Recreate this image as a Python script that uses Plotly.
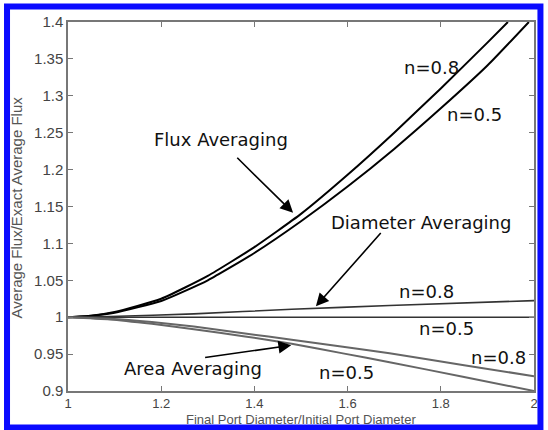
import plotly.graph_objects as go

# ---- data ----
flux08_x = [1.0, 1.05, 1.1, 1.2, 1.3, 1.4, 1.5, 1.6, 1.7, 1.8, 1.9, 1.944]
flux08_y = [1.0, 1.002, 1.007, 1.025, 1.056, 1.095, 1.140, 1.193, 1.250, 1.310, 1.372, 1.40]
flux05_x = [1.0, 1.05, 1.1, 1.2, 1.3, 1.4, 1.5, 1.6, 1.7, 1.8, 1.9, 1.989]
flux05_y = [1.0, 1.002, 1.006, 1.022, 1.050, 1.087, 1.130, 1.177, 1.228, 1.283, 1.341, 1.40]
diam08_x = [1.0, 1.09, 1.27, 1.48, 1.69, 2.0]
diam08_y = [1.0, 1.001, 1.0045, 1.0108, 1.0158, 1.0225]
diam05_x = [1.0, 2.0]
diam05_y = [1.0, 1.0]
area08_x = [1.0, 1.09, 1.18, 1.27, 1.38, 1.48, 1.59, 1.69, 1.85, 2.0]
area08_y = [1.0, 0.998, 0.9935, 0.9874, 0.978, 0.9694, 0.960, 0.951, 0.935, 0.920]
area05_x = [1.0, 1.09, 1.18, 1.27, 1.38, 1.48, 1.59, 1.69, 1.85, 2.0]
area05_y = [1.0, 0.997, 0.991, 0.9838, 0.974, 0.964, 0.951, 0.939, 0.919, 0.900]

x_ticks = [1, 1.2, 1.4, 1.6, 1.8, 2]
x_ticklabels = ["1", "1.2", "1.4", "1.6", "1.8", "2"]
y_ticks = [0.9, 0.95, 1.0, 1.05, 1.1, 1.15, 1.2, 1.25, 1.3, 1.35, 1.4]
y_ticklabels = ["0.9", "0.95", "1", "1.05", "1.1", "1.15", "1.2", "1.25", "1.3", "1.35", "1.4"]
x_title = "Final Port Diameter/Initial Port Diameter"
y_title = "Average Flux/Exact Average Flux"

# labels: (text, x, y)
curve_labels = [
    ("n=0.8", 1.781, 1.338),
    ("n=0.5", 1.872, 1.275),
    ("n=0.8", 1.770, 1.035),
    ("n=0.5", 1.813, 0.985),
    ("n=0.8", 1.923, 0.945),
    ("n=0.5", 1.598, 0.9245),
]
group_labels = [
    ("Flux Averaging", 1.328, 1.241),
    ("Diameter Averaging", 1.757, 1.129),
    ("Area Averaging", 1.268, 0.930),
]
# arrows: (tail_x, tail_y, tip_x, tip_y)
arrows = [
    (1.360, 1.218, 1.483, 1.1415),
    (1.674, 1.116, 1.532, 1.0148),
    (1.291, 0.945, 1.479, 0.962),
]

fig = go.Figure()
series = [
    (flux08_x, flux08_y, "black", 2),
    (flux05_x, flux05_y, "black", 2),
    (diam08_x, diam08_y, "#333333", 1.6),
    (diam05_x, diam05_y, "#333333", 1.6),
    (area08_x, area08_y, "#666666", 2),
    (area05_x, area05_y, "#666666", 2),
]
for xs, ys, c, w in series:
    fig.add_trace(go.Scatter(x=xs, y=ys, mode="lines",
                             line=dict(color=c, width=w, shape="spline", smoothing=0.5),
                             showlegend=False, hoverinfo="skip"))

W, H = 548, 430
ml, mr, mt, mb = 68, 10, 22, 39
pw, ph = W - ml - mr, H - mt - mb


def px2paper(px, py):
    return (px - ml) / pw, (H - mb - py) / ph


ann_font = dict(family="DejaVu Sans", size=18, color="#111111")
annotations = []
for t, x, y in curve_labels + group_labels:
    annotations.append(dict(x=x, y=y, xref="x", yref="y", text=t, showarrow=False,
                            font=ann_font, xanchor="center", yanchor="middle"))
for tx, ty, hx, hy in arrows:
    annotations.append(dict(x=hx, y=hy, ax=tx, ay=ty, xref="x", yref="y",
                            axref="x", ayref="y", text="", showarrow=True,
                            arrowhead=2, arrowsize=1.6, arrowwidth=1.6,
                            arrowcolor="black"))

title_font = dict(family="Liberation Sans", size=13, color="#555555")
tx, ty = px2paper(303, 419)
annotations.append(dict(x=tx, y=ty, xref="paper", yref="paper", text=x_title,
                        showarrow=False, font=title_font, xanchor="center", yanchor="middle"))
tx, ty = px2paper(17, 207)
annotations.append(dict(x=tx, y=ty, xref="paper", yref="paper", text=y_title,
                        showarrow=False, font=dict(family="Liberation Sans", size=15, color="#555555"),
                        textangle=-90, xanchor="center", yanchor="middle"))

x0, y0 = px2paper(6.5, 6.5)
x1, y1 = px2paper(544.5, 427.5)
shapes = [dict(type="rect", xref="paper", yref="paper", x0=x0, y0=y1, x1=x1, y1=y0,
               line=dict(color="#0a0aff", width=6), fillcolor="rgba(0,0,0,0)")]

axis_common = dict(showline=True, linecolor="#777777", linewidth=1.5, mirror="ticks",
                   ticks="inside", ticklen=5, tickcolor="#777777", showgrid=False,
                   zeroline=False,
                   tickfont=dict(family="Liberation Sans", size=15, color="#444444"))

fig.update_layout(
    width=W, height=H,
    margin=dict(l=ml, r=mr, t=mt, b=mb),
    paper_bgcolor="white", plot_bgcolor="white",
    xaxis=dict(range=[1, 2], tickvals=x_ticks, ticktext=x_ticklabels, **axis_common),
    yaxis=dict(range=[0.9, 1.4], tickvals=y_ticks, ticktext=y_ticklabels, **axis_common),
    annotations=annotations,
    shapes=shapes,
)
fig.update_xaxes(tickfont=dict(size=13))

fig.write_html("out.html")
